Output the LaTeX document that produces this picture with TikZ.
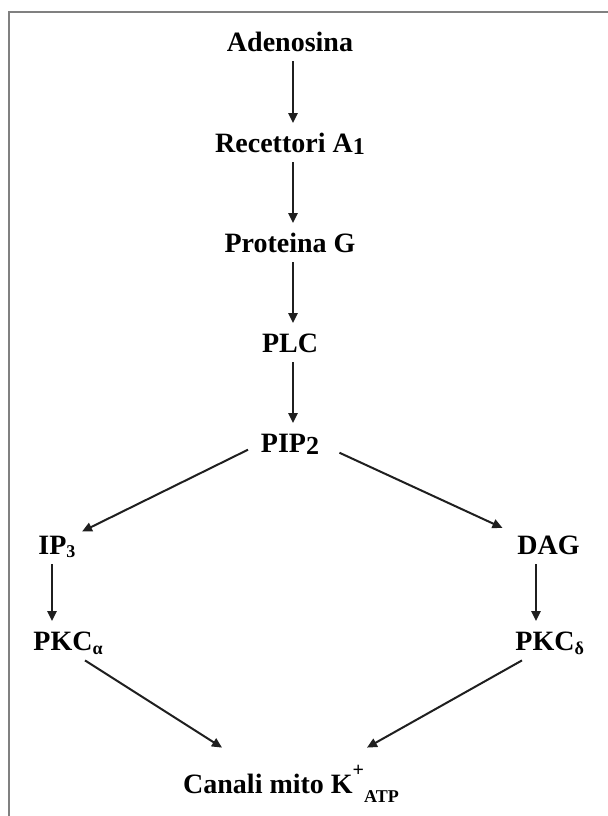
\documentclass[tikz,border=0pt]{standalone}
\usepackage{fontspec}
\setmainfont{Liberation Serif}
\usetikzlibrary{arrows.meta}

\newcommand{\subs}[2][-1pt]{\raisebox{#1}{\fontsize{9}{9}\selectfont #2}}

\begin{document}
\begin{tikzpicture}[
    x=0.5pt, y=-0.5pt,
    every node/.style={font=\bfseries\fontsize{14}{16}\selectfont, inner sep=0pt, anchor=base,
        text height=9.5pt, text depth=1pt},
    arrow/.style={-{Triangle[length=5pt, width=4.6pt]}, line width=1pt, draw=black!88},
    frame/.style={draw=black!50, line width=1pt}
]
\useasboundingbox (0,0) rectangle (608,816);

% cornice (solo lati sinistro e superiore)
\draw[frame] (9,816) -- (9,12) -- (608,12);

% colonna centrale
\node (adeno) at (290,51)  {Adenosina};
\node (recet) at (290,152) {Recettori A\raisebox{-1pt}{\fontsize{12}{12}\selectfont 1}};
\node (protg) at (290,252) {Proteina G};
\node (plc)   at (290,352) {PLC};
\node (pip)   at (290,452) {PIP\raisebox{-1pt}{\fontsize{13}{13}\selectfont 2}};

% due rami
\node[anchor=base west] (ip)   at (38,554)  {IP\subs[-1.5pt]{3}};
\node[anchor=base west] (dag)  at (517,554) {DAG};
\node[anchor=base west] (pkca) at (33,650)  {PKC\subs[-2pt]{α}};
\node[anchor=base west] (pkcd) at (515,650) {PKC\subs[-2pt]{δ}};

% canali
\node (kanal) at (291,793) {Canali mito K\raisebox{8.4pt}{\fontsize{10}{10}\selectfont +}\raisebox{-4.5pt}{\fontsize{9}{9}\selectfont ATP}};

\draw[arrow, shorten <=4pt, shorten >=4.8pt] ([xshift=1.5pt]adeno.south) -- ([xshift=1.5pt]adeno.south |- recet.north);
\draw[arrow, shorten <=4pt, shorten >=4.8pt] ([xshift=1.5pt]recet.south) -- ([xshift=1.5pt]recet.south |- protg.north);
\draw[arrow, shorten <=4pt, shorten >=4.8pt] ([xshift=1.5pt]protg.south) -- ([xshift=1.5pt]protg.south |- plc.north);
\draw[arrow, shorten <=4pt, shorten >=4.8pt] ([xshift=1.5pt]plc.south) -- ([xshift=1.5pt]plc.south |- pip.north);

\draw[arrow, shorten <=7pt, shorten >=3.5pt] (pip.west) -- (ip.north east);
\draw[arrow, shorten <=11pt, shorten >=8pt] (pip.east) -- (dag.north west);

\draw[arrow, shorten <=4pt, shorten >=4.8pt] ([xshift=7pt]ip.south west) -- ([xshift=7pt]ip.south west |- pkca.north);
\draw[arrow, shorten <=4pt, shorten >=4.8pt] ([xshift=9.5pt]dag.south west) -- ([xshift=9.5pt]dag.south west |- pkcd.north);

\draw[arrow] ([xshift=26pt, yshift=-4pt]pkca.south west) -- ([xshift=-34.5pt, yshift=13pt]kanal.north);
\draw[arrow] ([xshift=3.5pt, yshift=-4pt]pkcd.south west) -- ([xshift=38pt, yshift=13pt]kanal.north);
\end{tikzpicture}
\end{document}
